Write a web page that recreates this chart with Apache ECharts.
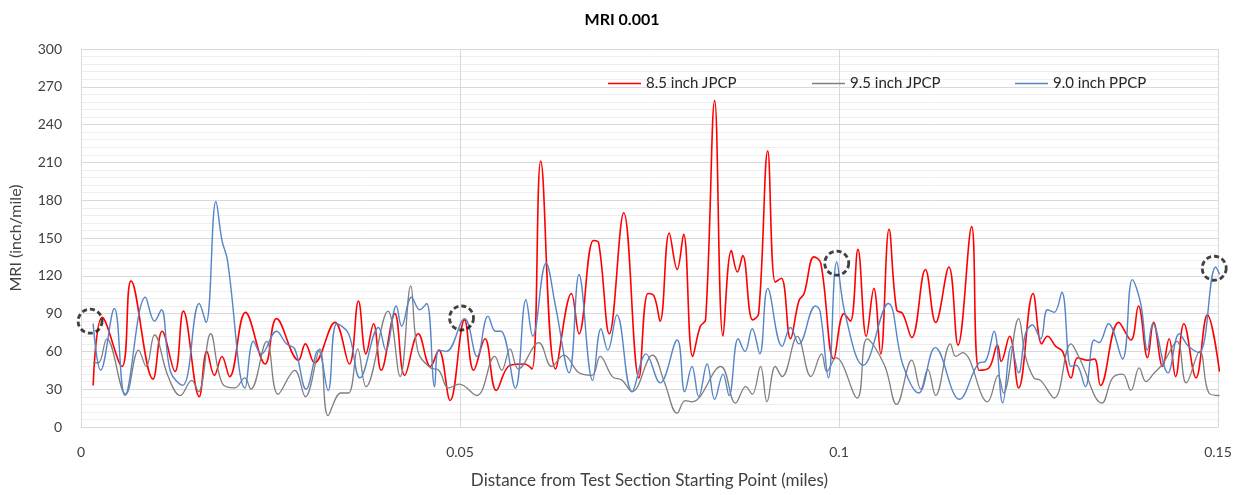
<!DOCTYPE html>
<html>
<head>
<meta charset="utf-8">
<script src="https://cdn.jsdelivr.net/npm/echarts@6/dist/echarts.min.js"></script>
<style>
html,body{margin:0;padding:0;background:#fff;}
#chart{width:1244px;height:495px;}
</style>
</head>
<body>
<div id="chart"></div>
<script>
// Distances in thousandths of a mile, MRI in inch/mile
var seriesNames = ['8.5 inch JPCP', '9.5 inch JPCP', '9.0 inch PPCP'];
var xTicks = [0, 0.05, 0.1, 0.15];
var yTicks = [0, 30, 60, 90, 120, 150, 180, 210, 240, 270, 300];

var redDist = [1.6,2.8,5.4,6.6,9.5,10.7,12.4,13.5,15.6,16.6,17.6,18.6,19.6,21.7,24.3,25.8,28.7,29.6,30.8,33.5,35.4,36.6,37.6,38.6,39.6,41.4,42.7,44.5,46.1,47.2,48.7,50.6,51.8,53.3,54.8,56.6,58.5,59.5,60.65,62.6,64.7,65.7,67.6,68.3,69.7,71.6,73.6,74.8,75.6,76.4,77.6,78.65,79.5,80.7,81.7,82.4,83.6,84.7,85.8,86.6,87.3,88.6,89.4,90.6,91.6,92.4,93.6,94.7,95.4,96.7,97.6,99.3,100.65,101.5,102.5,103.6,104.6,105.5,106.6,107.6,108.4,109.6,111.4,112.75,114.5,115.7,117.5,118.5,119.8,120.9,121.4,122.5,123.7,125.6,126.75,127.5,128.6,129.5,130.6,131.5,132.8,133.7,134.5,136.9,138.5,139.5,140.7,141.5,142.7,143.55,144.4,145.5,147.1,148.6,150.2];
var redMRI  = [33,87,48,116,38,76,44,92,24,60,41,56,40,91,50,86,53,66,51,83,50,100,58,82,45,90,41,74,48,61,21,85,45,70,29,49,50,46,211,46,106,74,148,146,74,170,39,106,104,84,154,125,153,56,80,85,259,72,140,123,136,85,90,219,115,118,70,100,106,135,130,54,90,84,141,72,110,58,157,93,90,71,125,83,127,65,159,45,47,65,52,72,31,106,66,72,64,60,39,55,53,54,33,83,69,96,55,83,48,70,40,82,39,89,44];

var grayDist = [1.6,2.3,3.4,5.9,7.6,8.6,9.7,11.5,13.1,14.6,15.5,17.1,18.6,20.3,21.6,22.4,24.5,26.0,28.2,29.6,31.5,32.6,34.3,35.3,36.5,37.6,40.5,42.1,43.5,44.45,46.1,47.2,48.5,49.9,52.2,54.6,55.5,56.6,57.7,60.4,62.1,63.7,65.7,67.4,68.5,70.1,71.4,72.7,75.4,77.0,78.65,79.7,80.6,84.4,86.35,87.7,88.55,89.65,90.5,91.6,92.5,94.5,96.3,97.7,98.4,99.6,102.4,103.7,106.0,107.6,109.6,110.8,111.7,112.75,114.7,115.4,116.3,119.6,121.0,121.7,123.7,124.6,125.7,126.6,128.4,130.6,131.7,134.7,136.1,137.4,138.5,139.6,140.5,141.6,142.7,144.6,145.8,147.6,148.8,150.2];
var grayMRI  = [51,51,70,26,61,48,73,40,25,37,28,74,35,31,39,30,68,26,45,24,62,9,27,27,62,32,92,40,112,60,47,45,31,34,25,56,45,62,46,67,48,57,43,41,56,40,37,28,57,35,11,21,20,48,19,32,26,48,20,48,40,72,40,58,44,55,23,70,49,18,53,30,46,25,66,56,59,20,41,27,86,56,39,37,23,66,55,19,39,42,29,47,36,43,50,68,35,60,27,25];

var blueDist = [1.6,2.6,4.4,5.8,8.5,9.7,10.6,11.8,13.4,15.6,16.5,17.8,18.6,19.3,21.65,22.75,23.8,25.8,27.1,28.2,29.7,31.3,32.6,33.75,35.3,36.8,39.25,40.2,41.6,42.3,43.6,44.7,45.6,46.65,47.2,48.2,50.6,52.25,53.7,54.7,55.4,57.3,58.7,59.6,61.35,62.6,64.4,65.7,67.5,68.6,69.5,70.7,72.7,74.55,76.4,78.65,79.65,80.6,81.5,82.6,83.6,84.7,85.5,86.7,87.6,88.55,89.55,90.6,92.5,93.6,94.7,96.9,97.5,98.6,99.7,100.8,103.2,106.5,108.4,110.5,112.7,115.9,118.5,119.3,120.45,121.6,122.75,123.7,124.6,125.5,126.6,127.5,128.4,129.4,130.6,131.3,132.5,133.65,134.3,135.55,137.4,138.7,139.8,140.7,141.4,143.4,144.9,146.1,147.5,149.7,150.2];
var blueMRI  = [82,45,94,25,103,84,93,44,33,98,83,179,148,133,31,68,58,76,66,62,30,61,29,82,74,39,79,61,96,80,103,93,98,32,61,60,86,56,88,76,76,31,101,72,130,96,43,121,37,78,61,89,28,58,35,69,28,48,24,50,22,42,25,70,60,78,58,110,64,79,66,96,92,39,131,90,49,98,50,27,63,22,51,52,76,19,64,43,74,81,70,93,91,107,48,49,32,69,67,82,54,117,98,61,82,43,74,64,59,127,121];

var circleDist = [1.2, 50.2, 99.7, 149.5];
var circleMRI  = [84, 86.5, 130, 126];

function pairs(d, v) {
  var out = [];
  for (var i = 0; i < d.length; i++) out.push([d[i] / 1000, v[i]]);
  return out;
}

var colors = ['#ff0000', '#7f7f7f', '#5585c8'];
var widths = [1.6, 1.3, 1.4];
var dists = [redDist, grayDist, blueDist];
var vals = [redMRI, grayMRI, blueMRI];
var legendLeft = [603, 807, 1010];
var FONT = 'Lato';

var series = seriesNames.map(function (n, i) {
  return {
    name: n, type: 'line', smooth: 0.4, symbol: 'none',
    data: pairs(dists[i], vals[i]),
    lineStyle: { color: colors[i], width: widths[i] },
    itemStyle: { color: colors[i] },
    z: 2 + i
  };
});
series.push({
  name: 'marks', type: 'scatter', symbol: 'circle', symbolSize: 24,
  data: pairs(circleDist, circleMRI),
  itemStyle: { color: 'rgba(0,0,0,0)', borderColor: '#111', borderWidth: 2.8, borderType: [5, 3] },
  z: 10, silent: true
});

var legends = seriesNames.map(function (n, i) {
  return {
    data: [n], left: legendLeft[i], top: 71, icon: 'rect',
    itemWidth: 33, itemHeight: 1.5, itemGap: 0,
    textStyle: { fontFamily: FONT, fontSize: 15, color: '#262626' }
  };
});

var chart = echarts.init(document.getElementById('chart'), null, { renderer: 'canvas' });
chart.setOption({
  animation: false,
  backgroundColor: '#fff',
  title: {
    text: 'MRI 0.001', left: 'center', top: 7,
    textStyle: { fontFamily: FONT, fontSize: 16, fontWeight: 'bold', color: '#000' }
  },
  legend: legends,
  grid: { left: 81, right: 26, top: 49, bottom: 68, containLabel: false },
  xAxis: {
    type: 'value', min: 0, max: 0.15, interval: 0.05,
    name: 'Distance from Test Section Starting Point (miles)',
    nameLocation: 'middle', nameGap: 45,
    nameTextStyle: { fontFamily: FONT, fontSize: 17, color: '#404040' },
    axisLine: { show: true, lineStyle: { color: '#d9d9d9', width: 1 } },
    axisTick: { show: false },
    axisLabel: { margin: 18, fontFamily: FONT, fontSize: 14, color: '#404040' },
    splitLine: { show: true, lineStyle: { color: '#d9d9d9', width: 1 } }
  },
  yAxis: {
    type: 'value', min: 0, max: 300, interval: 30,
    name: 'MRI (inch/mile)', nameLocation: 'middle', nameGap: 57, nameRotate: 90,
    nameTextStyle: { fontFamily: FONT, fontSize: 16, color: '#404040' },
    axisLine: { show: true, lineStyle: { color: '#d9d9d9', width: 1 } },
    axisTick: { show: false },
    axisLabel: { margin: 19, fontFamily: FONT, fontSize: 14, color: '#404040' },
    splitLine: { show: true, lineStyle: { color: '#d9d9d9', width: 1 } },
    minorTick: { show: false, splitNumber: 5 },
    minorSplitLine: { show: true, lineStyle: { color: '#eeeeee', width: 1 } }
  },
  series: series
});
</script>
</body>
</html>
